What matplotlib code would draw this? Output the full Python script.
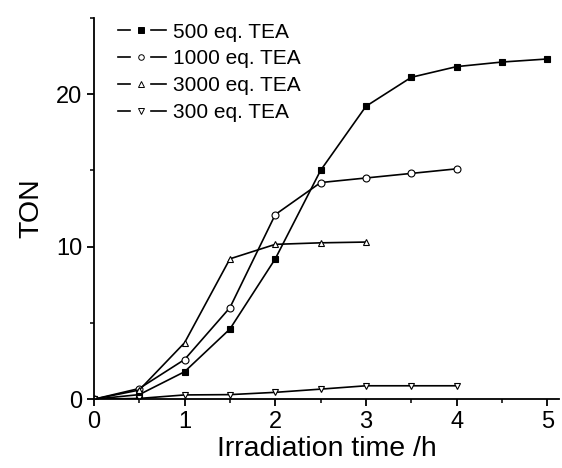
import matplotlib
matplotlib.use("Agg")
import matplotlib.pyplot as plt
from matplotlib.ticker import MultipleLocator
from matplotlib.legend_handler import HandlerBase
from matplotlib.lines import Line2D

plt.rcParams['font.family'] = ['Liberation Sans', 'DejaVu Sans']

t500 = [0, 0.5, 1, 1.5, 2, 2.5, 3, 3.5, 4, 4.5, 5]
ton500 = [0, 0.3, 1.8, 4.6, 9.2, 15.0, 19.2, 21.1, 21.8, 22.1, 22.3]
t1000 = [0, 0.5, 1, 1.5, 2, 2.5, 3, 3.5, 4]
ton1000 = [0, 0.7, 2.6, 6.0, 12.1, 14.2, 14.5, 14.8, 15.1]
t3000 = [0, 0.5, 1, 1.5, 2, 2.5, 3]
ton3000 = [0, 0.6, 3.7, 9.2, 10.15, 10.25, 10.3]
t300 = [0, 0.5, 1, 1.5, 2, 2.5, 3, 3.5, 4]
ton300 = [0, 0.05, 0.28, 0.3, 0.45, 0.66, 0.88, 0.88, 0.88]


class GapHandler(HandlerBase):
    def create_artists(self, legend, orig_handle, xdescent, ydescent,
                       width, height, fontsize, trans):
        y = height / 2 - ydescent
        x0 = -xdescent
        l1 = Line2D([x0, x0 + 0.25 * width], [y, y], color='black', lw=1.2)
        l2 = Line2D([x0 + 0.67 * width, x0 + width], [y, y], color='black', lw=1.2)
        m = Line2D([x0 + 0.48 * width], [y], ls='none',
                   marker=orig_handle.get_marker(),
                   mfc=orig_handle.get_markerfacecolor(),
                   mec='black', ms=4, mew=0.7)
        for a in (l1, l2, m):
            a.set_transform(trans)
        return [l1, l2, m]


fig = plt.figure(figsize=(5.62, 4.68), dpi=100)
ax = fig.add_axes([0.167, 0.147, 0.828, 0.815])

kw = dict(color='black', lw=1.2, ms=5, mec='black', mew=0.8)
ax.plot(t500, ton500, marker='s', mfc='black', label='500 eq. TEA', **kw)
ax.plot(t1000, ton1000, marker='o', mfc='white', label='1000 eq. TEA', **kw)
ax.plot(t3000, ton3000, marker='^', mfc='white', label='3000 eq. TEA', **kw)
ax.plot(t300, ton300, marker='v', mfc='white', label='300 eq. TEA', **kw)

ax.set_xlim(0, 5.13)
ax.set_ylim(0, 25)
ax.xaxis.set_major_locator(MultipleLocator(1))
ax.xaxis.set_minor_locator(MultipleLocator(0.5))
ax.yaxis.set_major_locator(MultipleLocator(10))
ax.yaxis.set_minor_locator(MultipleLocator(5))
for s in ['top', 'right']:
    ax.spines[s].set_visible(False)
for s in ['left', 'bottom']:
    ax.spines[s].set_linewidth(1.3)
ax.tick_params(which='major', direction='out', length=5, width=1.3, labelsize=17)
ax.tick_params(which='minor', direction='out', length=3, width=1.1)
ax.set_xlabel('Irradiation time /h', fontsize=20.5, labelpad=2)
ax.set_ylabel('TON', fontsize=20.5, labelpad=8)

handles, labels = ax.get_legend_handles_labels()
leg = ax.legend(handles, labels, loc='upper left', bbox_to_anchor=(0.035, 1.009),
                frameon=False, fontsize=15, handlelength=2.3, handletextpad=0.3,
                labelspacing=0.37, borderaxespad=0.0,
                handler_map={Line2D: GapHandler()})

fig.savefig('out.png', dpi=100)
